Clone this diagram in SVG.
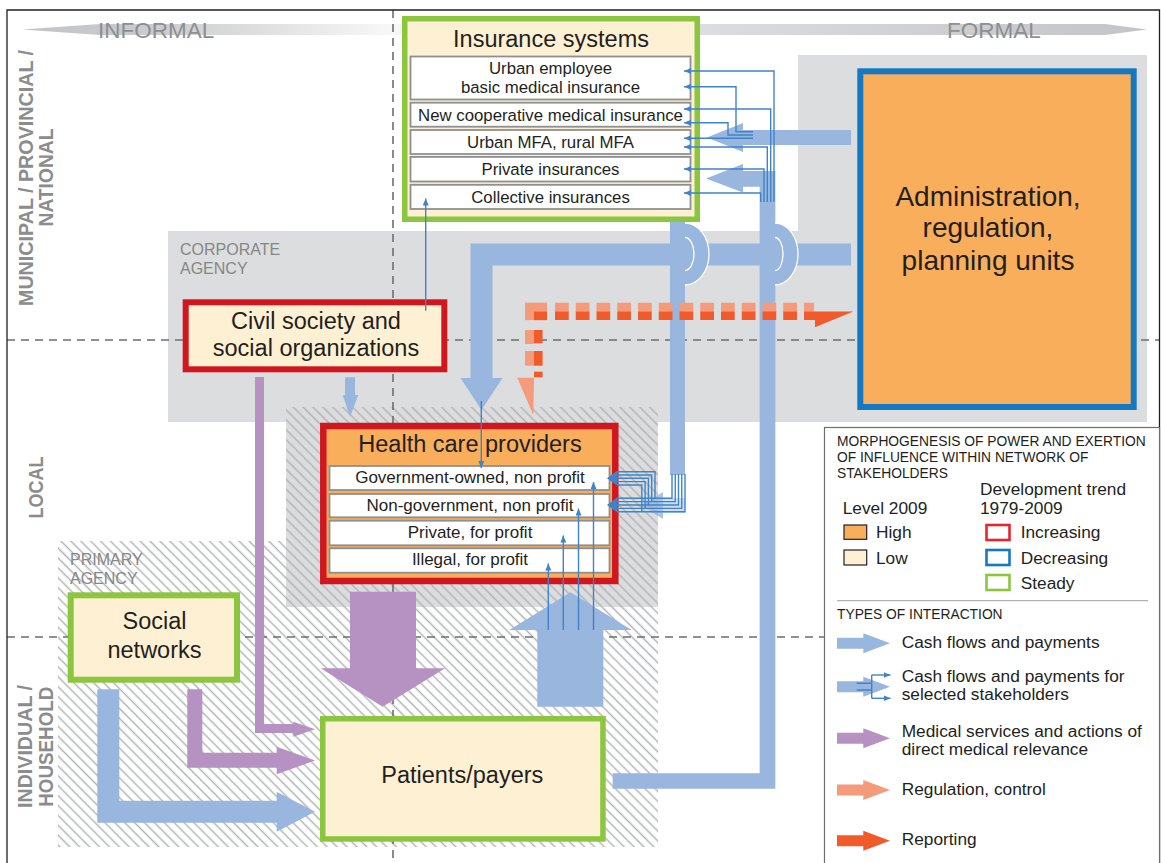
<svg xmlns="http://www.w3.org/2000/svg" width="1161" height="863" viewBox="0 0 1161 863">
<defs>
<style>
text{font-family:"Liberation Sans",Arial,Helvetica,sans-serif;fill:#231f20}
.node{font-size:23.5px}
.row{font-size:16.8px}
.hrow{font-size:17px}
.ax{font-weight:bold;fill:#8a8c8e;font-size:20.5px}
.reg{fill:#858789;font-size:16px}
.lg{font-size:17.3px}
.lgc{font-size:13.8px}
.cream{fill:#fef0d3}
.blue{fill:#99b6de}
.purple{fill:#b692c3}
.salmon{fill:#f49b7c}
.orange{fill:#f15a2b}
.thin{stroke:#3f84c8;stroke-width:1.4;fill:none}
.dash{stroke:#6d6e70;stroke-width:1.6;stroke-dasharray:8 6;fill:none}
.rowbox{fill:#fff;stroke:#8e8f91;stroke-width:1.8}
.white{fill:none;stroke:#fff;stroke-width:1.3}
</style>
<linearGradient id="bar" gradientUnits="userSpaceOnUse" x1="22" y1="0" x2="1147" y2="0">
<stop offset="0" stop-color="#c2c3c5"/>
<stop offset="0.12" stop-color="#cbcccd"/>
<stop offset="0.33" stop-color="#f8f8f8"/>
<stop offset="0.36" stop-color="#e6e7e8"/>
<stop offset="0.6" stop-color="#dcdddf"/>
<stop offset="1" stop-color="#c3c4c6"/>
</linearGradient>
<pattern id="hatch" patternUnits="userSpaceOnUse" width="7" height="7" patternTransform="rotate(-45)">
<line x1="3.5" y1="-1" x2="3.5" y2="8" stroke="#b2b3b5" stroke-width="1.5"/>
</pattern>
<marker id="ah" markerUnits="userSpaceOnUse" markerWidth="8" markerHeight="7" refX="7" refY="3" orient="auto">
<path d="M0,0 L7,3 L0,6 z" fill="#3f84c8"/>
</marker>
</defs>

<rect width="1161" height="863" fill="#fff"/>

<g id="background">
<polygon points="22,29.5 100,24 1105,24 1147,29.5 1105,35 100,35" fill="url(#bar)"/>
<text x="98" y="37.5" font-size="22.5" style="fill:#8d8f91">INFORMAL</text>
<text x="947" y="37.5" font-size="22.5" style="fill:#8d8f91">FORMAL</text>
<path d="M168,231 H798 V55 H1147 V422 H168 Z" fill="#dcddde"/>
<rect x="58" y="541" width="600" height="306" fill="url(#hatch)"/>
<rect x="286" y="407" width="372" height="200" fill="#dcddde"/>
<rect x="286" y="407" width="372" height="200" fill="url(#hatch)"/>
<text class="reg" x="180" y="255">CORPORATE</text>
<text class="reg" x="180" y="274.3">AGENCY</text>
<text class="reg" x="70" y="565">PRIMARY</text>
<text class="reg" x="70" y="584">AGENCY</text>
<text class="ax" transform="translate(33,178) rotate(-90)" text-anchor="middle" textLength="256" lengthAdjust="spacingAndGlyphs">MUNICIPAL / PROVINCIAL /</text>
<text class="ax" transform="translate(52.7,177.5) rotate(-90)" text-anchor="middle" textLength="98" lengthAdjust="spacingAndGlyphs">NATIONAL</text>
<text class="ax" transform="translate(42.7,487.5) rotate(-90)" text-anchor="middle" textLength="62" lengthAdjust="spacingAndGlyphs">LOCAL</text>
<text class="ax" transform="translate(31.7,746.5) rotate(-90)" text-anchor="middle" textLength="123" lengthAdjust="spacingAndGlyphs">INDIVIDUAL /</text>
<text class="ax" transform="translate(53.3,746.7) rotate(-90)" text-anchor="middle" textLength="120" lengthAdjust="spacingAndGlyphs">HOUSEHOLD</text>
<path class="dash" d="M7,340 H1160"/>
<path class="dash" d="M7,637 H824"/>
<path class="dash" d="M393,10 V863"/>
<path d="M7,863 V10 H1159.5 V863" fill="none" stroke="#231f20" stroke-width="1.3"/>
</g>

<g id="connectors">
<polygon class="blue" points="851,130 743,130 743,123 707,137.5 743,152 743,145 851,145"/>
<path d="M612.7,781 H767.5 V178.8 H743" fill="none" stroke="#99b6de" stroke-width="15.7"/>
<polygon class="blue" points="743,164 743,192.5 706,178.5"/>
<path d="M851,254.5 H481.5 V378.5" fill="none" stroke="#99b6de" stroke-width="22"/>
<polygon class="blue" points="460.5,378 502.5,378 481.5,410"/>
<rect class="blue" x="670" y="222" width="15" height="253"/>
<rect class="blue" x="663" y="498" width="22" height="15" opacity="0.45"/>
<polygon class="blue" points="663,492 663,519 641,505.5" opacity="0.8"/>
<path class="blue" d="M685,223 A24,31 0 0 1 685,285 Z"/>
<path class="white" d="M685,223 A24,31 0 0 1 685,285"/>
<path d="M685,237.5 A9,16.5 0 0 1 685,270.5" fill="#99b6de" stroke="#fff" stroke-width="1.3"/>
<path class="blue" d="M775,223 A23,31 0 0 1 775,285 Z"/>
<path class="white" d="M775,223 A23,31 0 0 1 775,285"/>
<path d="M775,237.5 A8,16.5 0 0 1 775,270.5" fill="#99b6de" stroke="#fff" stroke-width="1.3"/>
<polygon class="blue" points="345,377.3 355,377.3 355,395 358.3,395 350,416.7 342.7,395 345,395"/>
<polygon class="blue" points="537.3,706.7 603.3,706.7 603.3,630 631.7,630 570.5,592.3 509.3,630 537.3,630"/>
<polygon class="purple" points="350,591.7 416,591.7 416,668.3 445,668.3 382.7,706.7 320.7,668.3 350,668.3"/>
<path d="M259.5,377 V728.5 H294" fill="none" stroke="#b692c3" stroke-width="9"/>
<polygon class="purple" points="293.3,721.7 293.3,736.7 315,729.2"/>
<path d="M194.8,689.3 V760.2 H277" fill="none" stroke="#b692c3" stroke-width="15"/>
<polygon class="purple" points="276.7,746.7 276.7,774.3 315,760.5"/>
<path d="M108.3,689.3 V811.7 H277" fill="none" stroke="#99b6de" stroke-width="22"/>
<polygon class="blue" points="276.7,791.7 276.7,831.7 315,811.7"/>
<path d="M555,307.2 H814" stroke="#f49b7c" stroke-width="9" stroke-dasharray="13.75 7" fill="none"/>
<path d="M555,315.8 H815" stroke="#f15a2b" stroke-width="8.4" stroke-dasharray="13.75 7" fill="none"/>
<rect class="salmon" x="525" y="302.7" width="22" height="17.4"/>
<rect class="orange" x="534" y="311.6" width="13" height="8.5"/>
<rect class="salmon" x="525" y="330" width="9" height="14"/>
<rect class="salmon" x="525" y="351" width="9" height="14.7"/>
<rect class="orange" x="534" y="330" width="8.6" height="13.3"/>
<rect class="orange" x="534" y="351" width="8.6" height="14.7"/>
<rect class="orange" x="534" y="371.7" width="8.6" height="5.6"/>
<polygon class="salmon" points="517.3,377.7 534,377.7 533.3,415"/>
<polygon class="orange" points="815,311.6 853.3,311.6 815,327.3"/>
</g>

<g id="insurance-systems">
<rect x="404.75" y="18.75" width="292.5" height="200.5" class="cream" stroke="#8cc63f" stroke-width="5.5"/>
<text class="node" x="551" y="46.5" text-anchor="middle" font-size="23">Insurance systems</text>
<rect class="rowbox" x="410.5" y="56.5" width="280" height="43"/>
<text class="row" x="550.5" y="74.3" text-anchor="middle">Urban employee</text>
<text class="row" x="550.5" y="93.3" text-anchor="middle">basic medical insurance</text>
<rect class="rowbox" x="410.5" y="102.7" width="280" height="24"/>
<text class="row" x="550.5" y="121" text-anchor="middle">New cooperative medical insurance</text>
<rect class="rowbox" x="410.5" y="130" width="280" height="24"/>
<text class="row" x="550.5" y="148.3" text-anchor="middle">Urban MFA, rural MFA</text>
<rect class="rowbox" x="410.5" y="156.9" width="280" height="24.6"/>
<text class="row" x="550.5" y="175" text-anchor="middle">Private insurances</text>
<rect class="rowbox" x="410.5" y="184.8" width="280" height="24.2"/>
<text class="row" x="550.5" y="202.7" text-anchor="middle">Collective insurances</text>
</g>

<g id="administration">
<rect x="860.3" y="71.3" width="273.4" height="335.7" fill="#f9ae5c" stroke="#1479c0" stroke-width="6"/>
<text x="988" y="205.5" text-anchor="middle" font-size="28">Administration,</text>
<text x="988" y="237" text-anchor="middle" font-size="28">regulation,</text>
<text x="988" y="270" text-anchor="middle" font-size="28">planning units</text>
</g>

<g id="civil-society">
<rect x="185.7" y="302.3" width="258.6" height="67" class="cream" stroke="#d0161e" stroke-width="6"/>
<text class="node" x="316" y="329.3" text-anchor="middle">Civil society and</text>
<text class="node" x="316" y="355.5" text-anchor="middle">social organizations</text>
</g>

<g id="health-care-providers">
<rect x="323.3" y="426" width="292" height="155" fill="#f9ae5c" stroke="#d0161e" stroke-width="6.5"/>
<text class="node" x="470" y="451.7" text-anchor="middle" font-size="23">Health care providers</text>
<rect class="rowbox" x="329.5" y="466" width="280" height="24"/>
<text class="hrow" x="470" y="483.3" text-anchor="middle">Government-owned, non profit</text>
<rect class="rowbox" x="329.5" y="494" width="280" height="23.3"/>
<text class="hrow" x="470" y="510.5" text-anchor="middle">Non-government, non profit</text>
<rect class="rowbox" x="329.5" y="520.7" width="280" height="24.6"/>
<text class="hrow" x="470" y="538" text-anchor="middle">Private, for profit</text>
<rect class="rowbox" x="329.5" y="548.3" width="280" height="24.4"/>
<text class="hrow" x="470" y="565.3" text-anchor="middle">Illegal, for profit</text>
</g>

<g id="social-networks">
<rect x="70.7" y="595.3" width="166.3" height="84.4" class="cream" stroke="#8cc63f" stroke-width="6"/>
<text class="node" x="154.5" y="629" text-anchor="middle">Social</text>
<text class="node" x="154.5" y="658.3" text-anchor="middle">networks</text>
</g>

<g id="patients-payers">
<rect x="322.75" y="718.75" width="280.2" height="120.2" class="cream" stroke="#8cc63f" stroke-width="5.5"/>
<text class="node" x="462.3" y="783.3" text-anchor="middle">Patients/payers</text>
</g>

<g id="thin-connectors">
<path class="thin" marker-end="url(#ah)" d="M753,131.7 H736 V86.7 H684"/>
<path class="thin" marker-end="url(#ah)" d="M753,135 H728 V122.7 H684"/>
<path class="thin" marker-end="url(#ah)" d="M753,138.2 H684"/>
<path class="thin" marker-end="url(#ah)" d="M774,202 V71 H684"/>
<path class="thin" marker-end="url(#ah)" d="M770.7,202 V109 H684"/>
<path class="thin" marker-end="url(#ah)" d="M767.3,202 V147 H684"/>
<path class="thin" marker-end="url(#ah)" d="M764,202 V169 H684"/>
<path class="thin" marker-end="url(#ah)" d="M760.7,202 V193 H684"/>
<path class="thin" marker-end="url(#ah)" d="M425.7,310.7 V198.5"/>
<path class="thin" marker-end="url(#ah)" d="M481.3,401 V468"/>
<path class="thin" d="M672,474 V498.3 H617 M655,498.3 V471.7 H617"/>
<path class="thin" d="M675.25,474 V501.65 H617 M651.7,501.65 V475 H617"/>
<path class="thin" d="M678.5,474 V505 H617 M648.4,505 V478.3 H617"/>
<path class="thin" d="M681.75,474 V508.35 H617 M645.1,508.35 V481.6 H617"/>
<path class="thin" d="M685,474 V511.7 H617 M641.8,511.7 V485 H617"/>
<polygon points="607,478.3 617.5,470.5 617.5,486" fill="#3f84c8"/>
<polygon points="607,505 617.5,497.2 617.5,512.7" fill="#3f84c8"/>
<path class="thin" marker-end="url(#ah)" d="M548.3,630 V563.5"/>
<path class="thin" marker-end="url(#ah)" d="M563.3,630 V535.5"/>
<path class="thin" marker-end="url(#ah)" d="M578.5,630 V508.5"/>
<path class="thin" marker-end="url(#ah)" d="M593.5,630 V482"/>
</g>

<g id="legend">
<rect x="824.5" y="427.5" width="335" height="440" fill="#fff" stroke="#6d6e70" stroke-width="1.2"/>
<text class="lgc" x="837" y="446">MORPHOGENESIS OF POWER AND EXERTION</text>
<text class="lgc" x="837" y="461.7">OF INFLUENCE WITHIN NETWORK OF</text>
<text class="lgc" x="837" y="477.7">STAKEHOLDERS</text>
<text class="lg" x="980" y="495" font-size="16.8">Development trend</text>
<text class="lg" x="980" y="513.5" font-size="16.8">1979-2009</text>
<text class="lg" x="842.7" y="514">Level 2009</text>
<rect x="844" y="525" width="22.7" height="14.3" fill="#f9ae5c" stroke="#231f20" stroke-width="1.2"/>
<text class="lg" x="876" y="538.3">High</text>
<rect x="844" y="550" width="22.7" height="15" fill="#fef0d3" stroke="#231f20" stroke-width="1.2"/>
<text class="lg" x="876" y="564">Low</text>
<rect x="986.5" y="525" width="23" height="15" fill="#fff" stroke="#e5262d" stroke-width="2.6"/>
<text class="lg" x="1020.7" y="538.3">Increasing</text>
<rect x="986.5" y="550" width="23" height="15" fill="#fff" stroke="#1479c0" stroke-width="2.6"/>
<text class="lg" x="1020.7" y="563.5">Decreasing</text>
<rect x="986.5" y="575" width="23" height="15" fill="#fff" stroke="#8cc63f" stroke-width="2.6"/>
<text class="lg" x="1020.7" y="589">Steady</text>
<line x1="837" y1="600.7" x2="1148" y2="600.7" stroke="#9fa0a2" stroke-width="1"/>
<text class="lgc" x="837" y="619.3">TYPES OF INTERACTION</text>
<polygon class="blue" points="837,637.8 863.3,637.8 863.3,633.3 890,643.3 863.3,653.3 863.3,648.8 837,648.8"/>
<text class="lg" x="901.7" y="647.7">Cash flows and payments</text>
<polygon class="blue" points="837,681.2 863.3,681.2 863.3,676.7 890,686.7 863.3,696.7 863.3,692.2 837,692.2"/>
<path class="thin" d="M856.7,683.3 H871.7 M856.7,690 H871.7 M871.7,675 V698.3"/>
<path class="thin" marker-end="url(#ah)" d="M871.7,675 H890.5"/>
<path class="thin" marker-end="url(#ah)" d="M871.7,698.3 H890.5"/>
<text class="lg" x="901.7" y="681.7">Cash flows and payments for</text>
<text class="lg" x="901.7" y="700">selected stakeholders</text>
<polygon class="purple" points="837,732.8 863.3,732.8 863.3,728.3 890,738.3 863.3,748.3 863.3,743.8 837,743.8"/>
<text class="lg" x="901.7" y="736.7">Medical services and actions of</text>
<text class="lg" x="901.7" y="755">direct medical relevance</text>
<polygon class="salmon" points="837,784.5 863.3,784.5 863.3,780 890,790 863.3,800 863.3,795.5 837,795.5"/>
<text class="lg" x="901.7" y="795">Regulation, control</text>
<polygon class="orange" points="837,835.2 863.3,835.2 863.3,830.7 890,840.7 863.3,850.7 863.3,846.2 837,846.2"/>
<text class="lg" x="901.7" y="845">Reporting</text>
</g>
</svg>
